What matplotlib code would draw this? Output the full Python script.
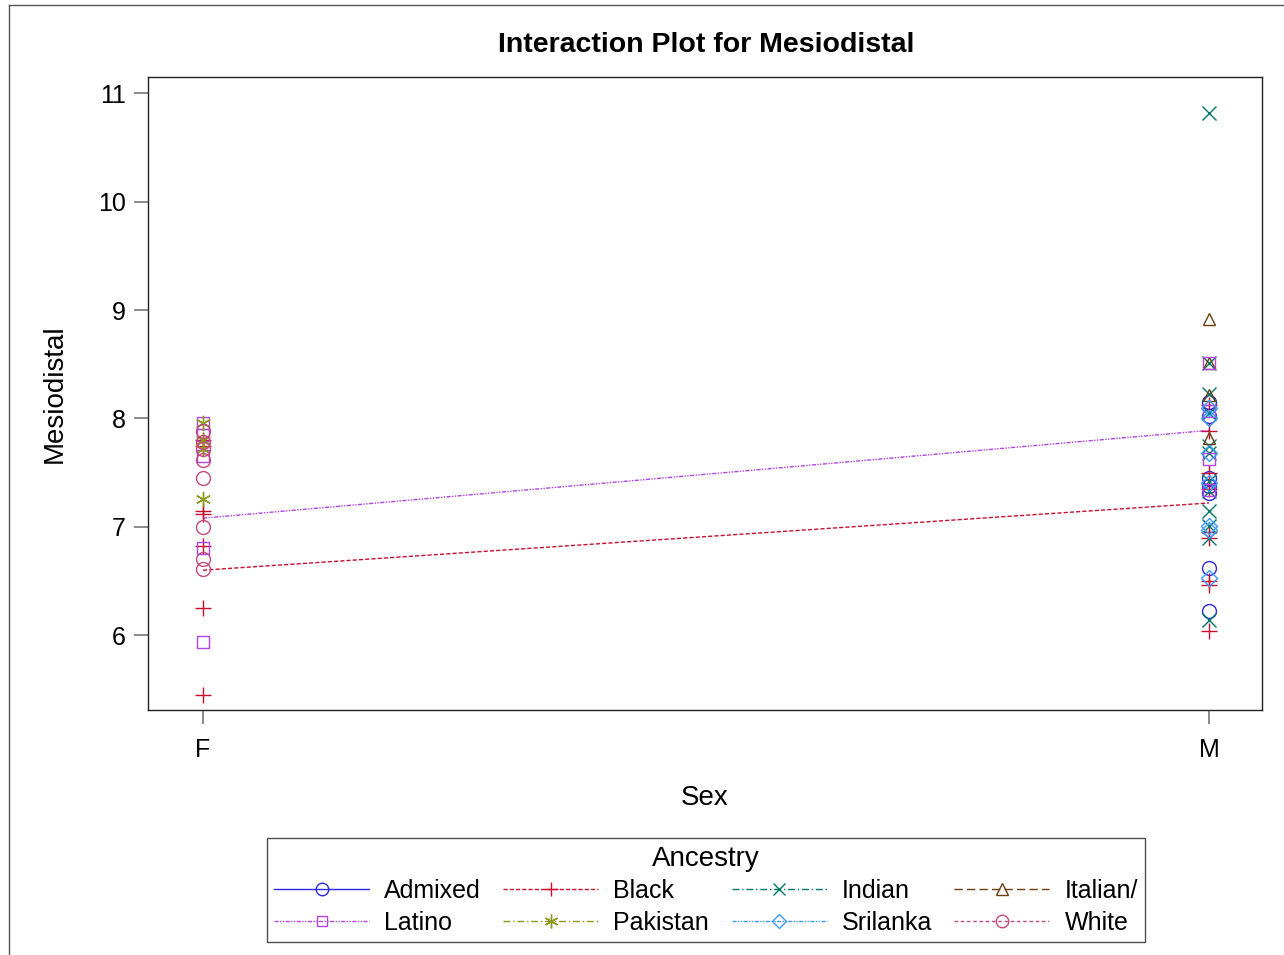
import matplotlib.pyplot as plt
from matplotlib.lines import Line2D

plt.rcParams['font.family'] = ['Liberation Sans', 'DejaVu Sans']

# Categories on the x axis
sexes = ['F', 'M']

# Ancestry groups, legend order (row-major as in the reference)
groups = ['Admixed', 'Black', 'Indian', 'Italian/', 'Latino', 'Pakistan', 'Srilanka', 'White']

admixed_f = []
admixed_m = [8.15, 8.02, 7.45, 7.38, 7.31, 6.62, 6.22]
black_f = [7.80, 7.75, 7.15, 7.12, 6.82, 6.25, 5.45]
black_m = [8.12, 7.88, 7.50, 7.35, 6.95, 6.90, 6.50, 6.46, 6.04]
indian_f = []
indian_m = [10.82, 8.51, 8.23, 8.05, 7.75, 7.68, 7.42, 7.33, 7.15, 7.01, 6.90, 6.14]
italian_f = []
italian_m = [8.92, 8.51, 8.22, 7.82]
latino_f = [7.96, 7.85, 7.65, 6.80, 5.94]
latino_m = [8.51, 8.07, 7.63, 7.34]
pakistan_f = [7.96, 7.80, 7.72, 7.26]
pakistan_m = []
srilanka_f = []
srilanka_m = [8.10, 8.00, 7.68, 7.40, 7.01, 6.97, 6.53]
white_f = [7.88, 7.78, 7.72, 7.62, 7.45, 7.00, 6.70, 6.61]
white_m = []

# Interaction lines that are drawn (group means)
black_means = [6.60, 7.22]
latino_means = [7.08, 7.89]

# Styles
colors = {'Admixed': '#2a2ae6', 'Black': '#c8102e', 'Indian': '#00796b', 'Italian/': '#6b3e12',
          'Latino': '#b044e6', 'Pakistan': '#8c9a1e', 'Srilanka': '#3a9cff', 'White': '#c4487e'}
markers = {'Admixed': 'o', 'Black': '+', 'Indian': 'x', 'Italian/': '^',
           'Latino': 's', 'Pakistan': (6, 2, 0), 'Srilanka': 'D', 'White': 'o'}
sizes = {'Admixed': 10, 'Black': 11, 'Indian': 10, 'Italian/': 9,
         'Latino': 8, 'Pakistan': 11, 'Srilanka': 8, 'White': 10}
styles = {'Admixed': '-', 'Black': (0, (3, 1.5)), 'Indian': (0, (5, 2, 1, 2)),
          'Italian/': (0, (6, 3)), 'Latino': (0, (3, 1, 1, 1, 1, 1)),
          'Pakistan': (0, (5, 2, 1, 2)), 'Srilanka': (0, (3, 1, 1, 1, 1, 1)),
          'White': (0, (2.5, 2))}

values = {
    'Admixed': (admixed_f, admixed_m), 'Black': (black_f, black_m),
    'Indian': (indian_f, indian_m), 'Italian/': (italian_f, italian_m),
    'Latino': (latino_f, latino_m), 'Pakistan': (pakistan_f, pakistan_m),
    'Srilanka': (srilanka_f, srilanka_m), 'White': (white_f, white_m),
}

fig = plt.figure(figsize=(12.84, 9.55), dpi=100)
ax = fig.add_axes([148 / 1284, 1 - 710 / 955, (1262 - 148) / 1284, (710 - 77) / 955])

# Points
for g in groups:
    for i, vals in enumerate(values[g]):
        if not vals:
            continue
        ax.plot([i] * len(vals), vals, linestyle='none', marker=markers[g],
                markersize=sizes[g], markerfacecolor='none', markeredgecolor=colors[g],
                markeredgewidth=1.0, zorder=3)

# Mean lines
ax.plot([0, 1], black_means, color=colors['Black'], linestyle=styles['Black'], linewidth=1.0, zorder=2)
ax.plot([0, 1], latino_means, color=colors['Latino'], linestyle=styles['Latino'], linewidth=1.0, zorder=2)

ax.set_xlim(-0.0547, 1.0527)
ax.set_ylim(5.31, 11.15)
ax.set_xticks([0, 1])
ax.set_xticklabels(sexes)
ax.set_yticks([6, 7, 8, 9, 10, 11])
ax.tick_params(axis='both', direction='out', length=10, width=1.2, color='#777777',
               labelsize=18, pad=6)
ax.tick_params(axis='x', pad=10)
for s in ax.spines.values():
    s.set_linewidth(1.0)
    s.set_color('#222222')

ax.set_xlabel('Sex', fontsize=20, labelpad=17)
ax.set_ylabel('Mesiodistal', fontsize=20, labelpad=22)
fig.text(706 / 1284, 1 - 45 / 955, 'Interaction Plot for Mesiodistal', ha='center', va='center',
         fontsize=20.5, fontweight='bold')

# Legend (matplotlib fills column-major, so reorder)
handles = {}
for g in groups:
    handles[g] = Line2D([], [], color=colors[g], linestyle=styles[g], linewidth=1.0,
                        marker=markers[g], markersize=sizes[g] * 0.9, markerfacecolor='none',
                        markeredgecolor=colors[g], markeredgewidth=1.0)
order = [0, 4, 1, 5, 2, 6, 3, 7]
leg = fig.legend([handles[groups[k]] for k in order], [groups[k] for k in order],
                 loc='upper center', bbox_to_anchor=(706 / 1284, 1 - 838 / 955), ncol=4,
                 title='Ancestry', fontsize=18, title_fontsize=20, frameon=True, fancybox=False,
                 handlelength=3.8, handletextpad=0.6, columnspacing=0.9, labelspacing=0.3,
                 borderpad=0.3, borderaxespad=0, markerfirst=True)
leg.get_frame().set_edgecolor('#222222')
leg.get_frame().set_linewidth(1.0)

# Outer border (top and left edges visible in the reference)
fig.add_artist(Line2D([9 / 1284, 9 / 1284], [0, 1 - 5 / 955], color='#555555', linewidth=1.0))
fig.add_artist(Line2D([9 / 1284, 1], [1 - 5 / 955, 1 - 5 / 955], color='#555555', linewidth=1.0))

fig.savefig('out.png', dpi=100)
